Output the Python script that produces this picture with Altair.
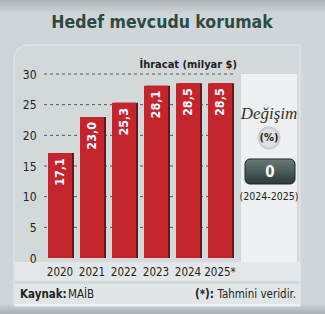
import altair as alt
import pandas as pd

years = ["2020", "2021", "2022", "2023", "2024", "2025*"]
values = [17.1, 23.0, 25.3, 28.1, 28.5, 28.5]
labels = ["17,1", "23,0", "25,3", "28,1", "28,5", "28,5"]
y_ticks = [0, 5, 10, 15, 20, 25, 30]

title_text = "Hedef mevcudu korumak"
unit_text = "İhracat (milyar $)"
change_label = "Değişim"
change_pct = "(%)"
change_value = "0"
change_period = "(2024-2025)"

FONT = "'DejaVu Sans Condensed', 'Liberation Sans Narrow', 'Roboto', sans-serif"
OX, OY = 44, 74  # plot origin on the page
W, H = 192, 184

df = pd.DataFrame({"year": years, "value": values, "label": labels})
ticks_df = pd.DataFrame({"value": y_ticks[1:]})
one = pd.DataFrame({"a": [0]})


def px(x):
    return x - OX


def py(y):
    return y - OY


def rect(x1, y1, x2, y2, **kw):
    return alt.Chart(one).mark_rect(**kw).encode(
        x=alt.value(px(x1)), x2=alt.value(px(x2)),
        y=alt.value(py(y1)), y2=alt.value(py(y2)))


def text(s, x, y, **kw):
    return alt.Chart(pd.DataFrame({"t": [s]})).mark_text(**kw).encode(
        text="t:N", x=alt.value(px(x)), y=alt.value(py(y)))


def vgrad(c1, c2):
    return {"gradient": "linear", "x1": 0, "y1": 0, "x2": 0, "y2": 1,
            "stops": [{"offset": 0, "color": c1}, {"offset": 1, "color": c2}]}


top_shade = rect(0, 0, 325, 14, color=vgrad("#aeb4b8", "#d0d5d9"))
bottom_shade = rect(0, 304, 325, 314, color=vgrad("#d0d5d9", "#a7adb1"))
panel = rect(14, 45, 300, 306, fill="#d3d8db", stroke="#e8ebed",
             strokeWidth=1, cornerRadiusTopLeft=14)
xband = rect(15, 262, 300, 281, color="#e4e7e9")
footer = rect(15, 284, 300, 304, color="#e3e6e8")
footer_line = rect(15, 304, 300, 306, color="#f2f4f5")
right_panel = rect(241, 74, 297, 262, color="#eef0f1")

x_axis = alt.Axis(title=None, labelAngle=0, labelFont=FONT,
                  labelFontSize=11.5, labelColor="#222",
                  labelPadding=8, domain=False, ticks=False,
                  labelOverlap=False, zindex=1)
y_axis = alt.Axis(title=None, values=y_ticks, labelFont=FONT,
                  labelFontSize=12, labelColor="#222",
                  labelPadding=8, domain=False, ticks=False,
                  labelOverlap=False, grid=False, zindex=1)
x_enc = alt.X("year:N", sort=years,
              scale=alt.Scale(paddingInner=0.25, paddingOuter=0.125),
              axis=x_axis)
y_enc = alt.Y("value:Q", scale=alt.Scale(domain=[0, 30]), axis=y_axis)

gridlines = alt.Chart(ticks_df).mark_rule(
    color="#555", strokeDash=[3, 3], strokeWidth=1).encode(
    y=y_enc, x=alt.value(0), x2=alt.value(W))
shadow = alt.Chart(df).mark_bar(color="#5e1a1c", xOffset=2).encode(
    x=x_enc, y=y_enc)
bars = alt.Chart(df).mark_bar(color="#c4242b").encode(x=x_enc, y=y_enc)
bar_text = alt.Chart(df).mark_text(
    angle=270, align="right", baseline="middle", dx=-5, color="white",
    font=FONT, fontSize=12.5, fontWeight="bold").encode(
    x=x_enc, y=y_enc, text="label:N")

title = text(title_text, 162, 23, font=FONT, fontSize=17.5, fontWeight="bold",
             color="#2d4a43", align="center", baseline="middle")
unit = text(unit_text, 237, 65, font=FONT, fontSize=11, fontWeight="bold",
            color="#222", align="right", baseline="middle")

change_lbl = text(change_label, 269, 114, font="Liberation Serif",
                  fontStyle="italic", fontSize=17, color="#333",
                  align="center", baseline="middle")
circle = alt.Chart(one).mark_point(
    shape="circle", size=440, filled=True, fill="#dfe2e4", stroke="#c8cccf",
    strokeWidth=2, opacity=1).encode(x=alt.value(px(269)), y=alt.value(py(138)))
pct = text(change_pct, 269, 138, font=FONT, fontSize=11, fontWeight="bold",
           color="#222", align="center", baseline="middle")
button = rect(245, 159, 295, 184, color=vgrad("#6a7a78", "#2c3b39"),
              cornerRadius=5, stroke="#1f2a29", strokeWidth=1)
val = text(change_value, 270, 172, font=FONT, fontSize=15, fontWeight="bold",
           color="white", align="center", baseline="middle")
period = text(change_period, 269, 197, font=FONT, fontSize=10.5, color="#222",
              align="center", baseline="middle")

src1 = text("Kaynak:", 20, 295, font=FONT, fontSize=11.5, fontWeight="bold",
            color="#222", align="left", baseline="middle")
src2 = text("MAİB", 68, 295, font=FONT, fontSize=11.5, color="#222",
            align="left", baseline="middle")
note1 = text("(*):", 214, 295, font=FONT, fontSize=11.5, fontWeight="bold",
             color="#222", align="right", baseline="middle")
note2 = text("Tahmini veridir.", 296, 295, font=FONT, fontSize=11.5,
             color="#222", align="right", baseline="middle")

chart = alt.layer(
    top_shade, bottom_shade, panel, xband, footer, footer_line, right_panel,
    gridlines, shadow, bars, bar_text, title, unit, change_lbl, circle, pct,
    button, val, period, src1, src2, note1, note2
).properties(
    width=W, height=H,
    autosize=alt.AutoSizeParams(type="none"),
    padding={"left": OX, "top": OY, "right": 325 - OX - W,
             "bottom": 314 - OY - H},
).configure(background="#d0d5d9").configure_view(stroke=None)

chart.save("out.html", embed_options={"renderer": "svg", "actions": False})
